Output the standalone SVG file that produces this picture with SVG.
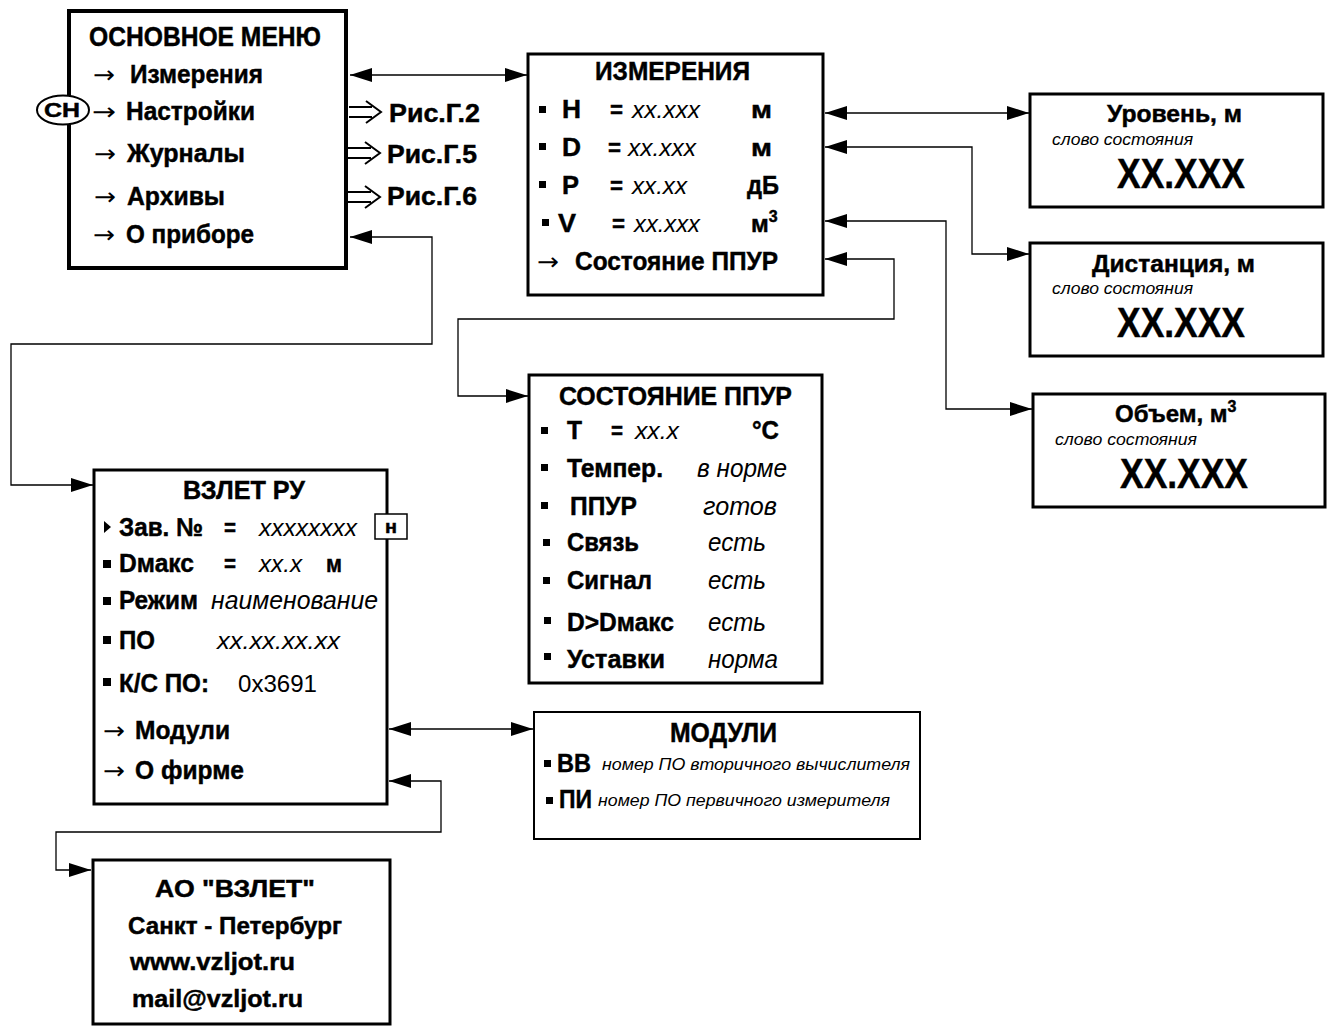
<svg xmlns="http://www.w3.org/2000/svg" width="1335" height="1034" viewBox="0 0 1335 1034">
<style>
text{font-family:"Liberation Sans Narrow","Liberation Sans",Arial,sans-serif;fill:#000}
.b{font-weight:bold;stroke:#000;stroke-width:0.45px}
.i{font-style:italic}
.ar{font-family:"DejaVu Sans",sans-serif;font-size:24px}
.box{fill:#fff;stroke:#000}
.con{fill:none;stroke:#000;stroke-width:1.3}
.ha{fill:none;stroke:#000;stroke-width:2}
.t26{font-size:26px}.t25{font-size:25px}.t24{font-size:24px}.t23{font-size:23.5px}.t27{font-size:27px}
</style>
<defs>
<marker id="ah" viewBox="0 0 22 14" refX="22" refY="7" markerWidth="22" markerHeight="14" markerUnits="userSpaceOnUse" orient="auto-start-reverse">
<path d="M0,0 L22,7 L0,14 z" fill="#000"/>
</marker>
</defs>
<rect width="1335" height="1034" fill="#fff"/>

<g id="connectors">
<line class="con" x1="350" y1="75" x2="527" y2="75" marker-start="url(#ah)" marker-end="url(#ah)"/>
<path class="con" d="M350,237 H432 V344 H11 V485 H93" marker-start="url(#ah)" marker-end="url(#ah)"/>
<line class="con" x1="825" y1="113" x2="1029" y2="113" marker-start="url(#ah)" marker-end="url(#ah)"/>
<path class="con" d="M825,147 H972 V254 H1029" marker-start="url(#ah)" marker-end="url(#ah)"/>
<path class="con" d="M825,221 H946 V409 H1032" marker-start="url(#ah)" marker-end="url(#ah)"/>
<path class="con" d="M825,259 H894 V319 H458 V396 H528" marker-start="url(#ah)" marker-end="url(#ah)"/>
<line class="con" x1="389" y1="729" x2="533" y2="729" marker-start="url(#ah)" marker-end="url(#ah)"/>
<path class="con" d="M389,781 H441 V832 H56 V870 H91" marker-start="url(#ah)" marker-end="url(#ah)"/>
<path class="ha" d="M349,107 H372 M349,117 H372 M366,101 L381,112 L366,123"/>
<path class="ha" d="M348,148 H371 M348,158 H371 M365,142 L380,153 L365,164"/>
<path class="ha" d="M348,192 H371 M348,202 H371 M365,186 L380,197 L365,208"/>
</g>

<g id="main-menu">
<rect class="box" x="69" y="11" width="277" height="257" stroke-width="4"/>
<text class="b t27" x="89" y="46" textLength="232" lengthAdjust="spacingAndGlyphs">ОСНОВНОЕ МЕНЮ</text>
<text class="ar" x="93" y="83" textLength="22" lengthAdjust="spacingAndGlyphs">→</text>
<text class="b t26" x="130" y="83" textLength="133" lengthAdjust="spacingAndGlyphs">Измерения</text>
<text class="ar" x="92" y="120" textLength="24" lengthAdjust="spacingAndGlyphs">→</text>
<text class="b t26" x="126" y="120" textLength="129" lengthAdjust="spacingAndGlyphs">Настройки</text>
<text class="ar" x="94" y="162" textLength="22" lengthAdjust="spacingAndGlyphs">→</text>
<text class="b t26" x="127" y="162" textLength="118" lengthAdjust="spacingAndGlyphs">Журналы</text>
<text class="ar" x="94" y="205" textLength="22" lengthAdjust="spacingAndGlyphs">→</text>
<text class="b t26" x="127" y="205" textLength="98" lengthAdjust="spacingAndGlyphs">Архивы</text>
<text class="ar" x="93" y="243" textLength="22" lengthAdjust="spacingAndGlyphs">→</text>
<text class="b t26" x="126" y="243" textLength="128" lengthAdjust="spacingAndGlyphs">О приборе</text>
</g>

<g id="sn-key">
<ellipse cx="63" cy="110" rx="26" ry="14.5" fill="#fff" stroke="#000" stroke-width="2"/>
<text class="b" x="44" y="117" font-size="20" textLength="36" lengthAdjust="spacingAndGlyphs">СН</text>
</g>

<g id="ref-g2"><text class="b t25" x="389" y="122" textLength="91" lengthAdjust="spacingAndGlyphs">Рис.Г.2</text></g>
<g id="ref-g5"><text class="b t25" x="387" y="163" textLength="90" lengthAdjust="spacingAndGlyphs">Рис.Г.5</text></g>
<g id="ref-g6"><text class="b t25" x="387" y="205" textLength="90" lengthAdjust="spacingAndGlyphs">Рис.Г.6</text></g>

<g id="izmereniya">
<rect class="box" x="528" y="54" width="295" height="241" stroke-width="3"/>
<text class="b t26" x="595" y="80" textLength="155" lengthAdjust="spacingAndGlyphs">ИЗМЕРЕНИЯ</text>
<rect x="539" y="106" width="7" height="7"/>
<text class="b t26" x="562" y="118" textLength="19" lengthAdjust="spacingAndGlyphs">H</text>
<text class="b t24" x="610" y="118" textLength="13" lengthAdjust="spacingAndGlyphs">=</text>
<text class="i t24" x="632" y="118" textLength="68" lengthAdjust="spacingAndGlyphs">xx.xxx</text>
<text class="b t24" x="751" y="118" textLength="21" lengthAdjust="spacingAndGlyphs">м</text>
<rect x="539" y="143" width="7" height="7"/>
<text class="b t26" x="562" y="156" textLength="19" lengthAdjust="spacingAndGlyphs">D</text>
<text class="b t24" x="608" y="156" textLength="13" lengthAdjust="spacingAndGlyphs">=</text>
<text class="i t24" x="628" y="156" textLength="68" lengthAdjust="spacingAndGlyphs">xx.xxx</text>
<text class="b t24" x="751" y="156" textLength="21" lengthAdjust="spacingAndGlyphs">м</text>
<rect x="539" y="181" width="7" height="7"/>
<text class="b t26" x="562" y="194" textLength="17" lengthAdjust="spacingAndGlyphs">P</text>
<text class="b t24" x="610" y="194" textLength="13" lengthAdjust="spacingAndGlyphs">=</text>
<text class="i t24" x="632" y="194" textLength="55" lengthAdjust="spacingAndGlyphs">xx.xx</text>
<text class="b t25" x="747" y="194" textLength="32" lengthAdjust="spacingAndGlyphs">дБ</text>
<rect x="542" y="219" width="7" height="7"/>
<text class="b t26" x="558" y="232" textLength="18" lengthAdjust="spacingAndGlyphs">V</text>
<text class="b t24" x="612" y="232" textLength="13" lengthAdjust="spacingAndGlyphs">=</text>
<text class="i t24" x="634" y="232" textLength="66" lengthAdjust="spacingAndGlyphs">xx.xxx</text>
<text class="b t24" x="751" y="232">м<tspan font-size="16" dy="-10">3</tspan></text>
<text class="ar" x="537" y="270" textLength="22" lengthAdjust="spacingAndGlyphs">→</text>
<text class="b t26" x="575" y="270" textLength="203" lengthAdjust="spacingAndGlyphs">Состояние ППУР</text>
</g>

<g id="uroven">
<rect class="box" x="1030" y="94" width="293" height="113" stroke-width="3"/>
<text class="b t24" x="1107" y="122" textLength="135" lengthAdjust="spacingAndGlyphs">Уровень, м</text>
<text class="i" font-size="16" x="1052" y="145" textLength="141" lengthAdjust="spacingAndGlyphs">слово состояния</text>
<text class="b" font-size="42" x="1117" y="188" textLength="128" lengthAdjust="spacingAndGlyphs">XX.XXX</text>
</g>

<g id="distanciya">
<rect class="box" x="1030" y="243" width="293" height="113" stroke-width="3"/>
<text class="b t24" x="1092" y="272" textLength="163" lengthAdjust="spacingAndGlyphs">Дистанция, м</text>
<text class="i" font-size="16" x="1052" y="294" textLength="141" lengthAdjust="spacingAndGlyphs">слово состояния</text>
<text class="b" font-size="42" x="1117" y="337" textLength="128" lengthAdjust="spacingAndGlyphs">XX.XXX</text>
</g>

<g id="obem">
<rect class="box" x="1033" y="394" width="292" height="113" stroke-width="3"/>
<text class="b t24" x="1115" y="422">Объем, м<tspan font-size="16" dy="-10">3</tspan></text>
<text class="i" font-size="16" x="1055" y="445" textLength="142" lengthAdjust="spacingAndGlyphs">слово состояния</text>
<text class="b" font-size="42" x="1120" y="488" textLength="128" lengthAdjust="spacingAndGlyphs">XX.XXX</text>
</g>

<g id="sostoyanie">
<rect class="box" x="529" y="375" width="293" height="308" stroke-width="3"/>
<text class="b t26" x="559" y="405" textLength="233" lengthAdjust="spacingAndGlyphs">СОСТОЯНИЕ ППУР</text>
<rect x="541" y="427" width="7" height="7"/>
<text class="b t25" x="567" y="439" textLength="15" lengthAdjust="spacingAndGlyphs">T</text>
<text class="b t24" x="611" y="439" textLength="12" lengthAdjust="spacingAndGlyphs">=</text>
<text class="i t24" x="635" y="439" textLength="44" lengthAdjust="spacingAndGlyphs">xx.x</text>
<text class="b t25" x="752" y="439" textLength="27" lengthAdjust="spacingAndGlyphs">°C</text>
<rect x="541" y="464" width="7" height="7"/>
<text class="b t25" x="567" y="477" textLength="96" lengthAdjust="spacingAndGlyphs">Темпер.</text>
<text class="i t25" x="697" y="477" textLength="90" lengthAdjust="spacingAndGlyphs">в норме</text>
<rect x="541" y="502" width="7" height="7"/>
<text class="b t25" x="570" y="515" textLength="67" lengthAdjust="spacingAndGlyphs">ППУР</text>
<text class="i t25" x="703" y="515" textLength="74" lengthAdjust="spacingAndGlyphs">готов</text>
<rect x="543" y="539" width="7" height="7"/>
<text class="b t25" x="567" y="551" textLength="72" lengthAdjust="spacingAndGlyphs">Связь</text>
<text class="i t25" x="708" y="551" textLength="58" lengthAdjust="spacingAndGlyphs">есть</text>
<rect x="543" y="577" width="7" height="7"/>
<text class="b t25" x="567" y="589" textLength="85" lengthAdjust="spacingAndGlyphs">Сигнал</text>
<text class="i t25" x="708" y="589" textLength="58" lengthAdjust="spacingAndGlyphs">есть</text>
<rect x="544" y="617" width="7" height="7"/>
<text class="b t25" x="567" y="631" textLength="107" lengthAdjust="spacingAndGlyphs">D&gt;Dмакс</text>
<text class="i t25" x="708" y="631" textLength="58" lengthAdjust="spacingAndGlyphs">есть</text>
<rect x="544" y="653" width="7" height="7"/>
<text class="b t25" x="567" y="668" textLength="98" lengthAdjust="spacingAndGlyphs">Уставки</text>
<text class="i t25" x="708" y="668" textLength="70" lengthAdjust="spacingAndGlyphs">норма</text>
</g>

<g id="vzlet-ru">
<rect class="box" x="94" y="470" width="293" height="334" stroke-width="3"/>
<text class="b t25" x="183" y="499" textLength="122" lengthAdjust="spacingAndGlyphs">ВЗЛЕТ РУ</text>
<polygon points="104,521 111,527 104,533"/>
<text class="b t26" x="119" y="536" textLength="84" lengthAdjust="spacingAndGlyphs">Зав. №</text>
<text class="b t24" x="224" y="536" textLength="12" lengthAdjust="spacingAndGlyphs">=</text>
<text class="i t24" x="259" y="536" textLength="98" lengthAdjust="spacingAndGlyphs">xxxxxxxx</text>
<rect x="375" y="514" width="32" height="25" fill="#fff" stroke="#000" stroke-width="1.5"/>
<text class="b" font-size="18" x="385" y="533" textLength="12" lengthAdjust="spacingAndGlyphs">н</text>
<rect x="103" y="560" width="8" height="8"/>
<text class="b t26" x="119" y="572" textLength="75" lengthAdjust="spacingAndGlyphs">Dмакс</text>
<text class="b t24" x="224" y="572" textLength="12" lengthAdjust="spacingAndGlyphs">=</text>
<text class="i t24" x="259" y="572" textLength="43" lengthAdjust="spacingAndGlyphs">xx.x</text>
<text class="b t24" x="326" y="572" textLength="16" lengthAdjust="spacingAndGlyphs">м</text>
<rect x="103" y="597" width="8" height="8"/>
<text class="b t26" x="119" y="609" textLength="79" lengthAdjust="spacingAndGlyphs">Режим</text>
<text class="i t25" x="211" y="609" textLength="167" lengthAdjust="spacingAndGlyphs">наименование</text>
<rect x="103" y="636" width="8" height="8"/>
<text class="b t26" x="119" y="649" textLength="36" lengthAdjust="spacingAndGlyphs">ПО</text>
<text class="i t24" x="217" y="649" textLength="123" lengthAdjust="spacingAndGlyphs">xx.xx.xx.xx</text>
<rect x="103" y="678" width="8" height="8"/>
<text class="b t26" x="119" y="692" textLength="90" lengthAdjust="spacingAndGlyphs">К/С ПО:</text>
<text class="t24" x="238" y="692" textLength="79" lengthAdjust="spacingAndGlyphs">0x3691</text>
<text class="ar" x="103" y="739" textLength="22" lengthAdjust="spacingAndGlyphs">→</text>
<text class="b t26" x="135" y="739" textLength="95" lengthAdjust="spacingAndGlyphs">Модули</text>
<text class="ar" x="103" y="779" textLength="22" lengthAdjust="spacingAndGlyphs">→</text>
<text class="b t26" x="135" y="779" textLength="109" lengthAdjust="spacingAndGlyphs">О фирме</text>
</g>

<g id="moduli">
<rect class="box" x="534" y="712" width="386" height="127" stroke-width="2"/>
<text class="b t27" x="670" y="742" textLength="107" lengthAdjust="spacingAndGlyphs">МОДУЛИ</text>
<rect x="544" y="760" width="7" height="7"/>
<text class="b t26" x="557" y="772" textLength="34" lengthAdjust="spacingAndGlyphs">ВВ</text>
<text class="i" font-size="17" x="602" y="770" textLength="308" lengthAdjust="spacingAndGlyphs">номер ПО вторичного вычислителя</text>
<rect x="546" y="797" width="7" height="7"/>
<text class="b t26" x="559" y="808" textLength="33" lengthAdjust="spacingAndGlyphs">ПИ</text>
<text class="i" font-size="17" x="598" y="806" textLength="292" lengthAdjust="spacingAndGlyphs">номер ПО первичного измерителя</text>
</g>

<g id="ao-vzlet">
<rect class="box" x="93" y="860" width="297" height="164" stroke-width="3"/>
<text class="b t23" x="155" y="897" textLength="160" lengthAdjust="spacingAndGlyphs">АО "ВЗЛЕТ"</text>
<text class="b t23" x="128" y="934" textLength="214" lengthAdjust="spacingAndGlyphs">Санкт - Петербург</text>
<text class="b t23" x="130" y="970" textLength="165" lengthAdjust="spacingAndGlyphs">www.vzljot.ru</text>
<text class="b t23" x="132" y="1007" textLength="171" lengthAdjust="spacingAndGlyphs">mail@vzljot.ru</text>
</g>
</svg>
